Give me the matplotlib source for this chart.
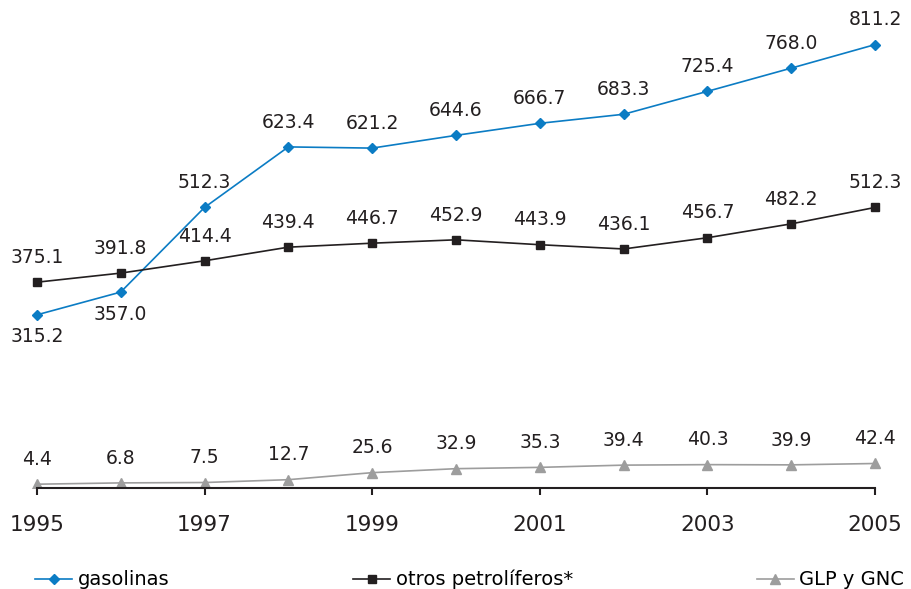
import matplotlib
matplotlib.use("Agg")
import matplotlib.pyplot as plt

years = [1995, 1996, 1997, 1998, 1999, 2000, 2001, 2002, 2003, 2004, 2005]
gasolinas = [315.2, 357.0, 512.3, 623.4, 621.2, 644.6, 666.7, 683.3, 725.4, 768.0, 811.2]
otros = [375.1, 391.8, 414.4, 439.4, 446.7, 452.9, 443.9, 436.1, 456.7, 482.2, 512.3]
glp = [4.4, 6.8, 7.5, 12.7, 25.6, 32.9, 35.3, 39.4, 40.3, 39.9, 42.4]
tick_years = [1995, 1997, 1999, 2001, 2003, 2005]

BLUE = '#0b7cc4'
BLACK = '#231f20'
GREY = '#9d9d9d'

plt.rcParams['font.family'] = ['DejaVu Sans']

fig = plt.figure(figsize=(9.12, 5.89), dpi=100)
ax = fig.add_axes([0, 0.172, 1, 0.828])

ax.plot(years, gasolinas, color=BLUE, lw=1.2, marker='D', ms=5.5, label='gasolinas')
ax.plot(years, otros, color=BLACK, lw=1.2, marker='s', ms=6, label='otros petrolíferos*')
ax.plot(years, glp, color=GREY, lw=1.2, marker='^', ms=7.5, label='GLP y GNC')

def label_series(vals, below=()):
  for i, (x, v) in enumerate(zip(years, vals)):
    if i in below:
      ax.annotate(f'{v:.1f}', (x, v), xytext=(0, -9), textcoords='offset points',
                  ha='center', va='top', fontsize=13.5, color=BLACK)
    else:
      ax.annotate(f'{v:.1f}', (x, v), xytext=(0, 11), textcoords='offset points',
                  ha='center', va='bottom', fontsize=13.5, color=BLACK)

label_series(gasolinas, below=(0, 1))
label_series(otros)
label_series(glp)

ax.set_xlim(1994.56, 2005.44)
ax.set_ylim(-2, 893)
for s in ['top', 'right', 'left']:
  ax.spines[s].set_visible(False)
ax.spines['bottom'].set_bounds(1995, 2005)
ax.spines['bottom'].set_color(BLACK)
ax.spines['bottom'].set_linewidth(1.5)
ax.set_yticks([])
ax.set_xticks(tick_years)
ax.set_xticklabels([str(y) for y in tick_years])
ax.tick_params(axis='x', direction='out', length=5, width=1.5, color=BLACK,
               pad=15, labelsize=15.5, labelcolor=BLACK)

fig.legend(loc='lower left', bbox_to_anchor=(0.03, -0.014, 0.97, 0.06), ncol=3,
           mode='expand', frameon=False, fontsize=14, handlelength=1.9,
           handletextpad=0.3, borderaxespad=0)

fig.savefig('out.png', dpi=100)
